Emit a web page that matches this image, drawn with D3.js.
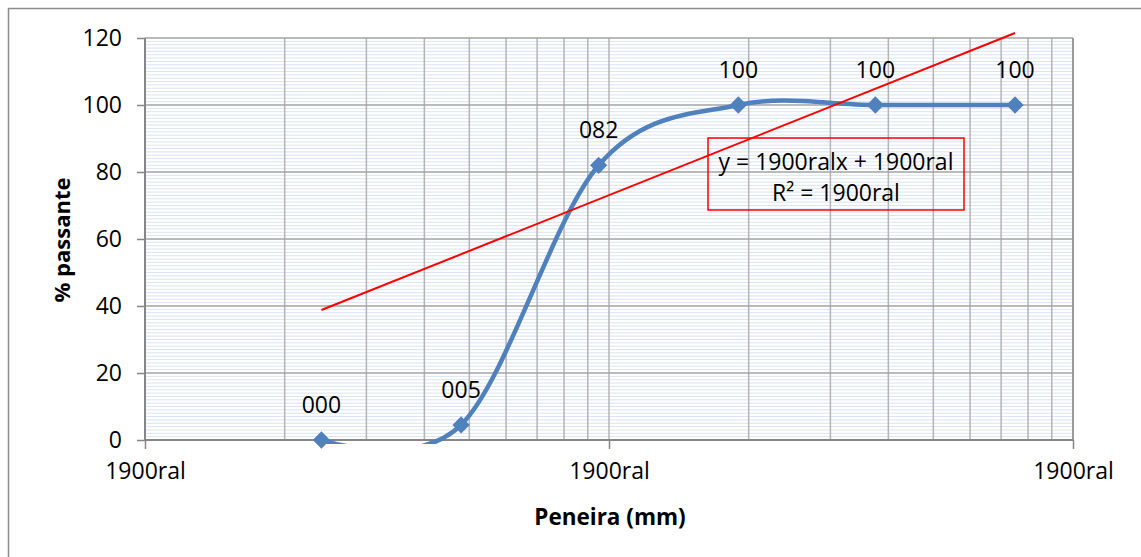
<!DOCTYPE html>
<html>
<head>
<meta charset="utf-8">
<script src="https://cdnjs.cloudflare.com/ajax/libs/d3/7.8.5/d3.min.js"></script>
<style>
  body { margin: 0; background: #fff; }
  text { font-family: "Open Sans", sans-serif; fill: #000; }
</style>
</head>
<body>
<div id="chart"></div>
<script>
// sieve sizes (mm) and % passing
var sieveSizes = [0.024, 0.048, 0.095, 0.19, 0.375, 0.75];
var percentPassing = [0, 4.5, 82, 100, 100, 100];

// trendline ends as drawn on the chart
var trendX = [0.024, 0.75];
var trendY = [38.8, 121.5];

var xTickValues = [0.01, 0.1, 1];
var xTickLabels = ["1900ral", "1900ral", "1900ral"];
var yTickValues = [0, 20, 40, 60, 80, 100, 120];

var trendEquation = "y = 1900ralx + 1900ral";
var trendR2 = "R\u00b2 = 1900ral";

var xTitle = "Peneira (mm)";
var yTitle = "% passante";

// SVG area
var svgWidth = 1141;
var svgHeight = 557;

var margin = { top: 38, right: 68, bottom: 117, left: 145 };
var width = svgWidth - margin.left - margin.right;
var height = svgHeight - margin.top - margin.bottom;

var svg = d3.select("#chart")
    .append("svg")
    .attr("width", svgWidth)
    .attr("height", svgHeight);

// outer chart border (right and bottom edges fall outside the picture)
svg.append("rect")
    .attr("x", 8.5).attr("y", 8.5)
    .attr("width", 1200).attr("height", 600)
    .attr("fill", "none")
    .attr("stroke", "#8c8c8c")
    .attr("stroke-width", 1.5);

var chartGroup = svg.append("g")
    .attr("transform", `translate(${margin.left}, ${margin.top})`);

// scales
var xScale = d3.scaleLog()
    .domain([0.01, 1])
    .range([0, width]);

var yScale = d3.scaleLinear()
    .domain([0, 120])
    .range([height, 0]);

// minor horizontal gridlines, one per unit
chartGroup.append("g")
    .selectAll("line")
    .data(d3.range(1, 120).filter(v => v % 20 !== 0))
    .enter()
    .append("line")
    .attr("x1", 0).attr("x2", width)
    .attr("y1", d => yScale(d)).attr("y2", d => yScale(d))
    .attr("stroke", "#dae4f2")
    .attr("stroke-width", 1);

// vertical log gridlines (major + minor)
var xGridValues = [];
[0.01, 0.1].forEach(function(dec) {
    for (var k = 1; k <= 9; k++) xGridValues.push(dec * k);
});
xGridValues.push(1);

chartGroup.append("g")
    .selectAll("line")
    .data(xGridValues)
    .enter()
    .append("line")
    .attr("x1", d => xScale(d)).attr("x2", d => xScale(d))
    .attr("y1", 0).attr("y2", height)
    .attr("stroke", "#b4b4b4")
    .attr("stroke-width", 1.5);

// major horizontal gridlines
chartGroup.append("g")
    .selectAll("line")
    .data(yTickValues.slice(1))
    .enter()
    .append("line")
    .attr("x1", 0).attr("x2", width)
    .attr("y1", d => yScale(d)).attr("y2", d => yScale(d))
    .attr("stroke", "#a3a3a3")
    .attr("stroke-width", 1.5);

// right border of plot area
chartGroup.append("line")
    .attr("x1", width).attr("x2", width)
    .attr("y1", 0).attr("y2", height)
    .attr("stroke", "#8c8c8c")
    .attr("stroke-width", 1.5);

// axes
var leftAxis = d3.axisLeft(yScale)
    .tickValues(yTickValues)
    .tickSize(8)
    .tickPadding(15);

var bottomAxis = d3.axisBottom(xScale)
    .tickValues(xTickValues)
    .tickFormat((d, i) => xTickLabels[i])
    .tickSize(9)
    .tickPadding(14);

var yAxisG = chartGroup.append("g").call(leftAxis);
var xAxisG = chartGroup.append("g")
    .attr("transform", `translate(0, ${height})`)
    .call(bottomAxis);

[yAxisG, xAxisG].forEach(function(g) {
    g.select(".domain").attr("stroke", "#868686").attr("stroke-width", 2);
    g.selectAll(".tick line").attr("stroke", "#868686").attr("stroke-width", 1.5);
    g.selectAll(".tick text")
        .attr("font-family", "Open Sans, sans-serif")
        .attr("font-size", "23px")
        .attr("fill", "#000");
});
yAxisG.select(".domain").attr("d", `M0,0V${height}`);
xAxisG.select(".domain").attr("d", `M0,0H${width}`);

// clip for the series lines (a little beyond the plot area like Excel)
svg.append("defs").append("clipPath")
    .attr("id", "plotClip")
    .append("rect")
    .attr("x", 0).attr("y", -6)
    .attr("width", width).attr("height", height + 10);

var points = sieveSizes.map((s, i) => ({ x: s, y: percentPassing[i] }));

// smoothed series line
var smoothLine = d3.line()
    .x(d => xScale(d.x))
    .y(d => yScale(d.y))
    .curve(d3.curveCardinal.tension(0));

chartGroup.append("path")
    .datum(points)
    .attr("clip-path", "url(#plotClip)")
    .attr("d", smoothLine)
    .attr("fill", "none")
    .attr("stroke", "#4f81bd")
    .attr("stroke-width", 4.5);

// trendline
var trendPoints = trendX.map((s, i) => ({ x: s, y: trendY[i] }));
chartGroup.append("path")
    .datum(trendPoints)
    .attr("clip-path", "url(#plotClip)")
    .attr("d", d3.line().x(d => xScale(d.x)).y(d => yScale(d.y)))
    .attr("fill", "none")
    .attr("stroke", "#ff0000")
    .attr("stroke-width", 2);

// diamond markers
chartGroup.selectAll(".marker")
    .data(points)
    .enter()
    .append("path")
    .attr("class", "marker")
    .attr("transform", d => `translate(${xScale(d.x)}, ${yScale(d.y)})`)
    .attr("d", d3.symbol().type(d3.symbolDiamond2).size(190))
    .attr("fill", "#4f81bd");

// data labels
chartGroup.selectAll(".dlabel")
    .data(points)
    .enter()
    .append("text")
    .attr("class", "dlabel")
    .attr("x", d => xScale(d.x))
    .attr("y", d => yScale(d.y) - 35)
    .attr("dy", "0.35em")
    .attr("text-anchor", "middle")
    .attr("font-size", "23px")
    .text(d => String(Math.round(d.y)).padStart(3, "0"));

// trendline label box
var boxX = 708 - margin.left, boxY = 138 - margin.top;
chartGroup.append("rect")
    .attr("x", boxX).attr("y", boxY)
    .attr("width", 256).attr("height", 72)
    .attr("fill", "none")
    .attr("stroke", "#ff0000")
    .attr("stroke-width", 1.5);

chartGroup.append("text")
    .attr("x", boxX + 128).attr("y", boxY + 24)
    .attr("dy", "0.35em")
    .attr("text-anchor", "middle")
    .attr("font-size", "23px")
    .text(trendEquation);

chartGroup.append("text")
    .attr("x", boxX + 128).attr("y", boxY + 55)
    .attr("dy", "0.35em")
    .attr("text-anchor", "middle")
    .attr("font-size", "23px")
    .text(trendR2);

// axis titles
chartGroup.append("text")
    .attr("transform", `translate(${62 - margin.left}, ${240 - margin.top}) rotate(-90)`)
    .attr("dy", "0.35em")
    .attr("text-anchor", "middle")
    .attr("font-size", "22px")
    .attr("font-weight", "bold")
    .text(yTitle);

chartGroup.append("text")
    .attr("x", 610 - margin.left)
    .attr("y", 517 - margin.top)
    .attr("dy", "0.35em")
    .attr("text-anchor", "middle")
    .attr("font-size", "22.5px")
    .attr("font-weight", "bold")
    .text(xTitle);
</script>
</body>
</html>
